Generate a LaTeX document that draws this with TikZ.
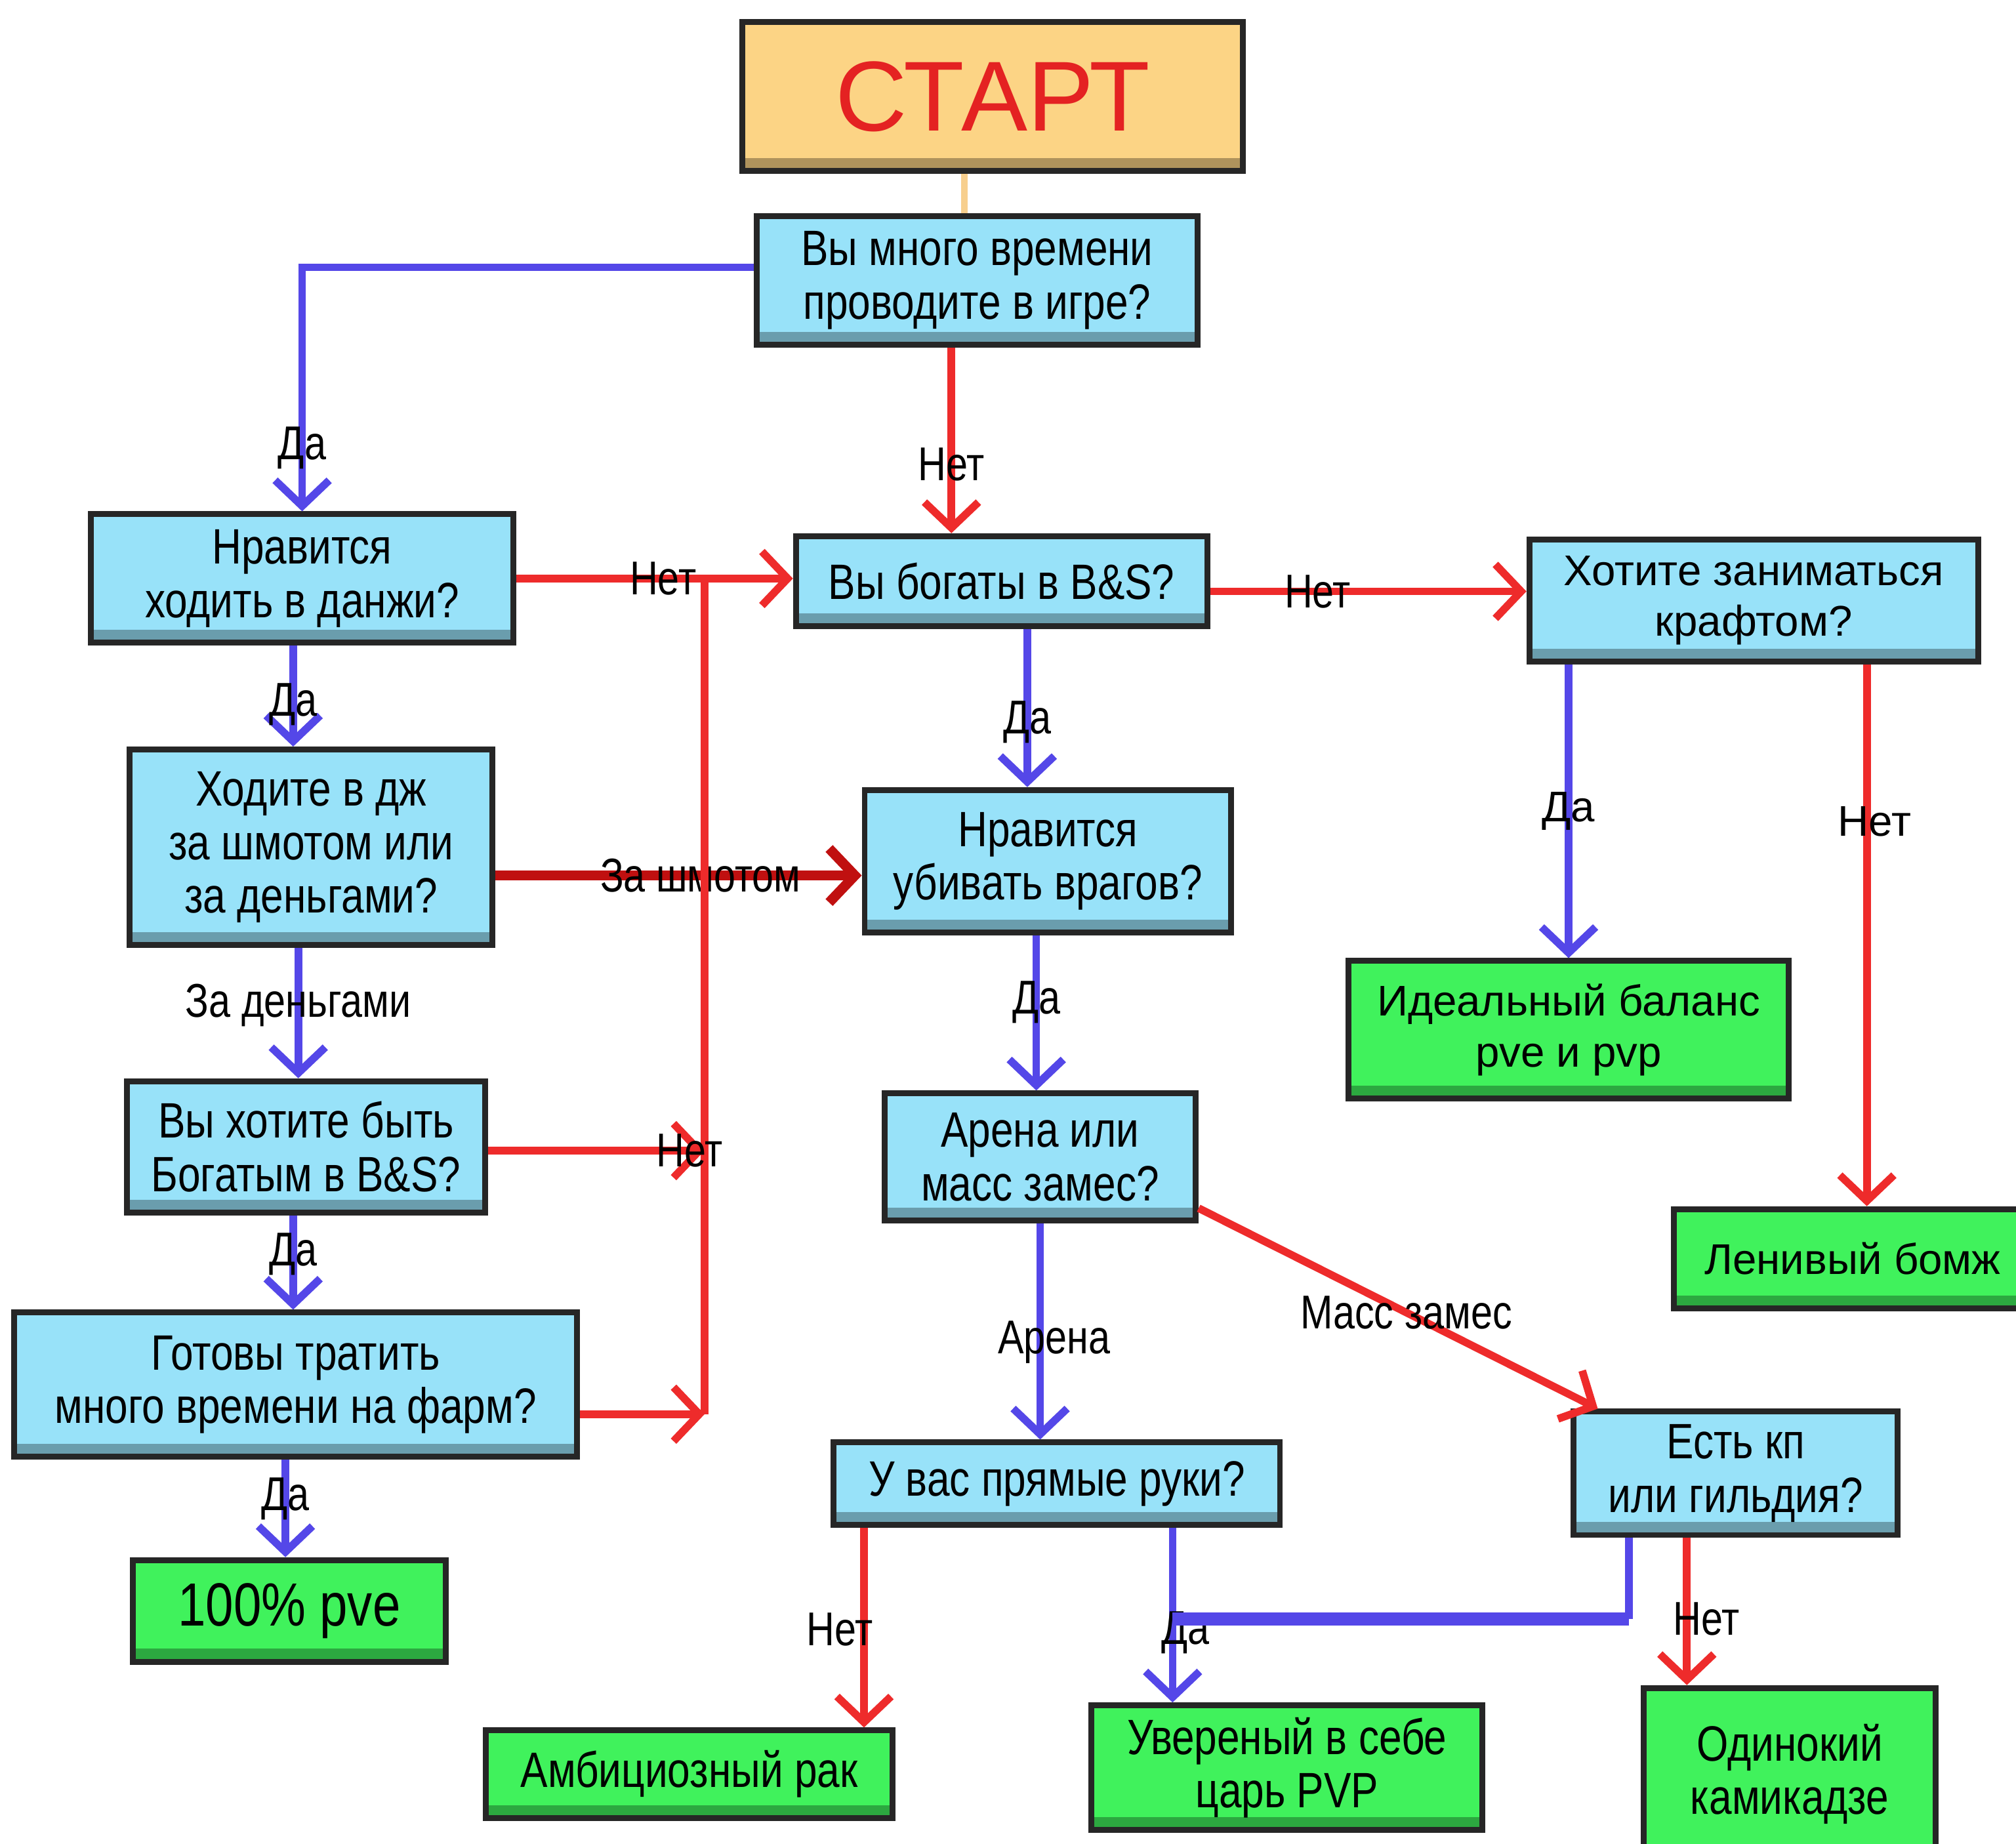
\documentclass[tikz,border=0pt]{standalone}
\usepackage{fontspec}
\setmainfont{Liberation Sans}[FakeStretch=0.82]
\newfontfamily\widefont{Liberation Sans}
\usetikzlibrary{arrows.meta}
\definecolor{askblue}{HTML}{98E2F9}
\definecolor{endgreen}{HTML}{40F25C}
\definecolor{startfill}{HTML}{FCD485}
\definecolor{startline}{HTML}{F7CF8E}
\definecolor{startred}{HTML}{E42222}
\definecolor{yesblue}{HTML}{5447E8}
\definecolor{nored}{HTML}{EE2B2B}
\definecolor{lootred}{HTML}{C01010}

\begin{document}
\begin{tikzpicture}[x=0.1mm,y=-0.1mm,
  box/.style={draw=black!85,line width=1.3pt,align=center,inner sep=1pt,
    font=\fontsize{11}{11.8}\selectfont,
    path picture={\fill[black,opacity=.3]
      (path picture bounding box.south west)
      rectangle ([yshift=1mm]path picture bounding box.south east);}},
  question/.style={box,fill=askblue},
  result/.style={box,fill=endgreen},
  widebox/.style={font=\widefont\fontsize{9.5}{11.3}\selectfont},
  startbox/.style={box,fill=startfill,text=startred,
    font=\widefont\fontsize{22}{24}\selectfont},
  tip/.style={-{Straight Barb[length=2mm,width=4.2mm]}},
  yes/.style={draw=yesblue,line width=1.7pt,tip},
  no/.style={draw=nored,line width=1.7pt,tip},
  loot/.style={draw=lootred,line width=2.2pt,tip},
  lbl/.style={inner sep=0pt,font=\fontsize{10.5}{12}\selectfont},
  widelbl/.style={inner sep=0pt,font=\widefont\fontsize{9.5}{11}\selectfont}
]
\useasboundingbox (0,0) rectangle (1568,1434);

% Boxes: questions in blue, outcomes in green
\node[startbox,minimum width=38.9mm,minimum height=11.6mm] (start)
  at (772,75) {СТАРТ};
\node[question,minimum width=34.3mm,minimum height=10mm] (q1)
  at (760,218) {Вы много времени\\проводите в игре?};
\node[question,minimum width=32.9mm,minimum height=10mm] (q2)
  at (235,450) {Нравится\\ходить в данжи?};
\node[question,minimum width=32mm,minimum height=7mm] (q3)
  at (779,452) {Вы богаты в B\&S?};
\node[question,widebox,minimum width=34.9mm,minimum height=9.5mm] (q4)
  at (1364,467) {Хотите заниматься\\крафтом?};
\node[question,minimum width=28.2mm,minimum height=15.2mm] (q5)
  at (242,659) {Ходите в дж\\за шмотом или\\за деньгами?};
\node[question,minimum width=28.5mm,minimum height=11.1mm] (q6)
  at (815,670) {Нравится\\убивать врагов?};
\node[result,widebox,minimum width=34.2mm,minimum height=10.7mm] (r1)
  at (1220,801) {Идеальный баланс\\pve и pvp};
\node[question,minimum width=27.9mm,minimum height=10.2mm] (q7)
  at (238,892) {Вы хотите быть\\Богатым в B\&S?};
\node[question,minimum width=24.2mm,minimum height=9.9mm] (q8)
  at (809,900) {Арена или\\масс замес?};
\node[result,widebox,minimum width=27.8mm,minimum height=7.7mm] (r2)
  at (1441,979) {Ленивый бомж};
\node[question,minimum width=43.8mm,minimum height=11.2mm] (q9)
  at (230,1077) {Готовы тратить\\много времени на фарм?};
\node[question,minimum width=34.7mm,minimum height=6.4mm] (q10)
  at (822,1154) {У вас прямые руки?};
\node[question,minimum width=25.2mm,minimum height=9.6mm] (q11)
  at (1350,1146) {Есть кп\\или гильдия?};
\node[result,minimum width=24.3mm,minimum height=7.9mm,
  font=\fontsize{13.5}{15}\selectfont] (r3)
  at (225,1253) {100\% pve};
\node[result,minimum width=31.6mm,minimum height=6.8mm] (r4)
  at (536,1380) {Амбициозный рак};
\node[result,minimum width=30.4mm,minimum height=9.7mm] (r5)
  at (1001,1375) {Увереный в себе\\царь PVP};
\node[result,minimum width=22.7mm,minimum height=13.4mm] (r6)
  at (1392,1380) {Одинокий\\камикадзе};

% Start link
\path ([xshift=-1mm]q1.north) coordinate (q1-top);
\draw[startline,line width=1.5pt] (q1-top) -- (q1-top |- start.south);

% Left column
\path ([yshift=1mm]q1.west) coordinate (q1-yes);
\draw[yes] (q1-yes) -| (q2.north) node[lbl,pos=.87] (l-q1-yes) {Да};
\path ([xshift=-2mm]q1.south) coordinate (q1-no);
\draw[no] (q1-no) -- (q1-no |- q3.north) node[lbl,pos=.63] (l-q1-no) {Нет};
\draw[no] (q2.east) -- (q2.east -| q3.west) node[lbl,pos=.53] (l-q2-no) {Нет};
\path ([xshift=-.7mm]q2.south) coordinate (q2-yes);
\draw[yes] (q2-yes) -- (q2-yes |- q5.north) node[lbl,pos=.58] (l-q2-yes) {Да};
\path ([yshift=-2.2mm]q5.east) coordinate (q5-loot);
\draw[loot] (q5-loot) -- (q5-loot -| q6.west)
  node[lbl,pos=.56] (l-q5-loot) {За шмотом};
\path ([xshift=-1mm]q5.south) coordinate (q5-cash);
\draw[yes] (q5-cash) -- (q5-cash |- q7.north)
  node[lbl,pos=.44] (l-q5-cash) {За деньгами};
\path ([xshift=-1mm]q7.south) coordinate (q7-yes);
\draw[yes] (q7-yes) -- (q7-yes |- q9.north) node[lbl,pos=.41] (l-q7-yes) {Да};
\path ([xshift=-.8mm]q9.south) coordinate (q9-yes);
\draw[yes] (q9-yes) -- (q9-yes |- r3.north) node[lbl,pos=.4] (l-q9-yes) {Да};

% Both "no" answers below join the trunk back to q3
\coordinate (trunk) at (548,1100);
\draw[nored,line width=1.7pt] (trunk) -- (trunk |- q2.east);
\path ([yshift=-.3mm]q7.east) coordinate (q7-no);
\draw[no] (q7-no) -- (q7-no -| trunk) node[lbl,pos=.93] (l-q7-no) {Нет};
\path ([yshift=-2.3mm]q9.east) coordinate (q9-no);
\draw[no] (q9-no) -- (q9-no -| trunk);

% Middle column
\path ([yshift=-.8mm]q3.east) coordinate (q3-no);
\draw[no] (q3-no) -- (q3-no -| q4.west) node[lbl,pos=.34] (l-q3-no) {Нет};
\path ([xshift=2mm]q3.south) coordinate (q3-yes);
\draw[yes] (q3-yes) -- (q3-yes |- q6.north) node[lbl,pos=.59] (l-q3-yes) {Да};
\path ([xshift=-.9mm]q6.south) coordinate (q6-yes);
\draw[yes] (q6-yes) -- (q6-yes |- q8.north) node[lbl,pos=.43] (l-q6-yes) {Да};
\draw[yes] (q8.south) -- (q8.south |- q10.north)
  node[lbl,pos=.55,xshift=1.1mm] (l-q8-arena) {Арена};
\draw[no] ([yshift=1.2mm]q8.south east) -- ([xshift=2.1mm]q11.north west)
  node[lbl,pos=.52] (l-q8-mass) {Масс замес};
\path ([xshift=-15mm]q10.south) coordinate (q10-no);
\draw[no] (q10-no) -- (q10-no |- r4.north)
  node[lbl,pos=.51,xshift=-1.9mm] (l-q10-no) {Нет};
\path ([xshift=9mm]q10.south) coordinate (q10-yes);
\draw[yes] (q10-yes) -- (q10-yes |- r5.north)
  node[lbl,pos=.6,xshift=1mm] (l-q10-yes) {Да};
\path (q10-yes) ++(0,71) coordinate (join);
\path ([xshift=-8.3mm]q11.south) coordinate (q11-yes);
\draw[yesblue,line width=1.7pt] (q11-yes) -- (q11-yes |- join);
\draw[yesblue,line width=2.8pt] (q11-yes |- join) -- (join);
\path ([xshift=-3.8mm]q11.south) coordinate (q11-no);
\draw[no] (q11-no) -- (q11-no |- r6.north)
  node[lbl,pos=.55,xshift=1.5mm] (l-q11-no) {Нет};

% Right column
\path (r1.north |- q4.south) coordinate (q4-yes);
\draw[yes] (q4-yes) -- (r1.north) node[widelbl,pos=.5] (l-q4-yes) {Да};
\path ([xshift=8.8mm]q4.south) coordinate (q4-no);
\draw[no] (q4-no) -- (q4-no |- r2.north)
  node[widelbl,pos=.29,xshift=.6mm] (l-q4-no) {Нет};
\end{tikzpicture}
\end{document}
